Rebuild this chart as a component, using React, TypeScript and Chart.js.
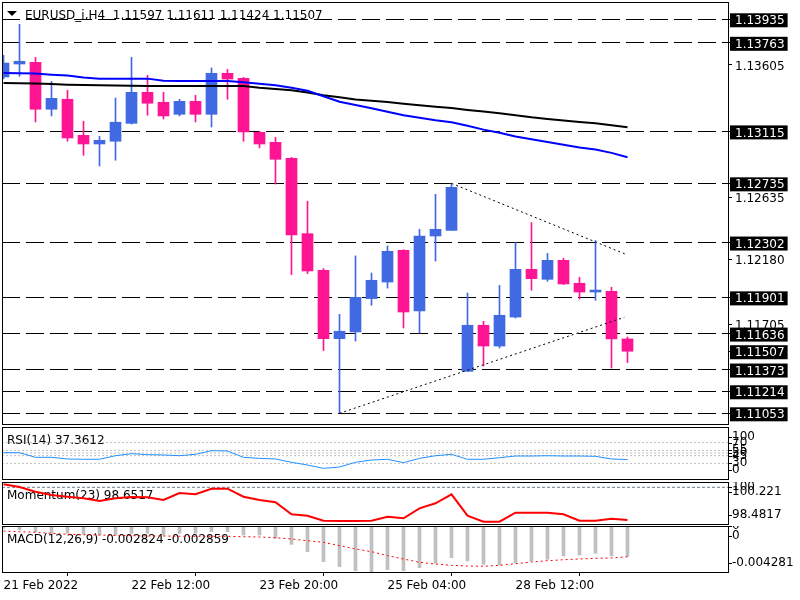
import React, { useEffect, useRef } from 'react';
import { Chart, registerables } from 'chart.js';
Chart.register(...registerables);

const FAMILY = "'DejaVu Sans', sans-serif";
const FONT = `12px ${FAMILY}`;

const symbolName = 'EURUSD_i,H4';

const openPrices = [1.13513,1.13608,1.13620,1.13277,1.13350,1.13086,1.13023,1.13043,1.13174,1.13401,
1.13328,1.13240,1.13335,1.13240,1.13540,1.13503,1.13108,1.13035,1.12918,1.12367,
1.12099,1.11599,1.11648,1.11892,1.12013,1.12245,1.11801,1.12350,1.12391,1.11360,
1.11697,1.11545,1.11757,1.12106,1.12033,1.12172,1.12004,1.11940,1.11945,1.11597];
const highPrices = [1.13672,1.13898,1.13657,1.13481,1.13416,1.13189,1.13079,1.13359,1.13657,1.13525,
1.13401,1.13350,1.13379,1.13579,1.13569,1.13510,1.13116,1.13072,1.12925,1.12604,
1.12111,1.11777,1.12204,1.12079,1.12277,1.12250,1.12399,1.12655,1.12735,1.11933,
1.11726,1.11989,1.12302,1.12448,1.12223,1.12187,1.12048,1.12316,1.11975,1.11611];
const lowPrices = [1.13500,1.13518,1.13184,1.13228,1.13043,1.12940,1.12862,1.12904,1.13169,1.13233,
1.13206,1.13228,1.13184,1.13147,1.13350,1.13043,1.12994,1.12730,1.12067,1.12075,
1.11512,1.11053,1.11582,1.11843,1.11969,1.11677,1.11640,1.12167,1.12391,1.11360,
1.11399,1.11531,1.11750,1.11953,1.12018,1.11995,1.11889,1.11880,1.11384,1.11424];
const closePrices = [1.13615,1.13628,1.13277,1.13357,1.13067,1.13023,1.13050,1.13182,1.13401,1.13321,
1.13228,1.13335,1.13240,1.13540,1.13498,1.13111,1.13023,1.12911,1.12357,1.12094,
1.11599,1.11653,1.11901,1.12026,1.12238,1.11794,1.12350,1.12399,1.12706,1.11697,
1.11545,1.11770,1.12106,1.12038,1.12172,1.11999,1.11940,1.11953,1.11597,1.11507];

const maBlue = [1.13542,1.13540,1.13538,1.13530,1.13523,1.13509,1.13501,1.13501,1.13501,1.13501,
1.13485,1.13484,1.13484,1.13484,1.13484,1.13474,1.13463,1.13452,1.13435,1.13412,
1.13372,1.13332,1.13308,1.13284,1.13258,1.13233,1.13215,1.13196,1.13182,1.13156,
1.13128,1.13105,1.13077,1.13057,1.13037,1.13017,1.12997,1.12982,1.12958,1.12926];
const maBlack = [1.13469,1.13467,1.13465,1.13461,1.13457,1.13454,1.13452,1.13450,1.13449,1.13447,
1.13447,1.13447,1.13447,1.13447,1.13447,1.13447,1.13434,1.13425,1.13416,1.13399,
1.13379,1.13364,1.13348,1.13339,1.13330,1.13318,1.13306,1.13296,1.13286,1.13272,
1.13260,1.13247,1.13233,1.13218,1.13206,1.13194,1.13184,1.13174,1.13160,1.13145];

const levelPrices = [1.13935,1.13763,1.13115,1.12735,1.12302,1.11901,1.11636,1.11373,1.11214,1.11053];
const plainPriceTicks = [1.13605,1.12635,1.12180,1.11705];
const currentPrice = closePrices[closePrices.length - 1];

const upperTrend = [{ x: 28, y: 1.12735 }, { x: 38.9, y: 1.12216 }];
const lowerTrend = [{ x: 21, y: 1.11053 }, { x: 38.8, y: 1.11755 }];

const rsiValues = [50.6,50.6,41.7,41.7,38.5,37.9,37.9,44.8,48.7,46.8,
46.2,44.8,47.4,54.5,53.8,41.7,39.7,38.5,32.1,26.9,
20.5,23.1,32.1,36.5,37.9,31.4,39.7,44.8,47.4,37.9,
37.9,41.0,44.2,44.2,44.8,44.2,44.2,43.6,38.5,37.3612];
const rsiLevels = [70,55,50,45,30];
const rsiRange = [0, 100];

const momentumValues = [100.126,100.014,99.819,99.683,99.612,99.546,99.434,99.546,99.600,99.587,
99.476,99.766,99.712,99.944,99.944,99.612,99.476,99.380,98.884,98.826,
98.618,98.606,98.606,98.618,98.784,98.718,99.132,99.339,99.712,98.826,
98.577,98.577,98.950,98.950,98.950,98.884,98.618,98.618,98.701,98.6517];
const momentumLevel = 100;
const momentumRange = [98.4817, 100.221];

const macdValues = [-0.00021,-0.00037,-0.00053,-0.00068,-0.00068,-0.00077,-0.00084,-0.00084,-0.00068,-0.00068,
-0.00084,-0.00068,-0.00068,-0.00053,-0.00053,-0.00084,-0.00084,-0.00115,-0.00171,-0.00239,
-0.00332,-0.00379,-0.00416,-0.004281,-0.00406,-0.00416,-0.00388,-0.00348,-0.00295,-0.00326,
-0.00357,-0.00363,-0.00341,-0.00326,-0.00310,-0.00279,-0.00270,-0.00254,-0.00279,-0.002824];
const signalValues = [-0.00047,-0.00053,-0.00059,-0.00068,-0.00077,-0.00081,-0.00084,-0.00087,-0.00090,-0.00093,
-0.00093,-0.00096,-0.00096,-0.00096,-0.00096,-0.00100,-0.00102,-0.00109,-0.00121,-0.00137,
-0.00152,-0.00183,-0.00214,-0.00239,-0.00276,-0.00307,-0.00338,-0.00354,-0.00366,-0.00372,
-0.00375,-0.00366,-0.00351,-0.00335,-0.00323,-0.00314,-0.00307,-0.00301,-0.00298,-0.002859];
const macdLevel = 0;
const macdRange = [-0.004281, 0];

const timeLabels = ['21 Feb 2022', '22 Feb 12:00', '23 Feb 20:00', '25 Feb 04:00', '28 Feb 12:00'];
const timeLabelIndex = [0, 8, 16, 24, 32];

// axis limits (layout)
const X_MIN = -0.09375;
const X_MAX = 45.28125;
const PRICE_MIN = 1.109747;
const PRICE_MAX = 1.140615;

const BULL = '#4169E1';
const BEAR = '#FF1493';

const idx = openPrices.map((_, i) => i);
const candleColors = idx.map(i => (closePrices[i] >= openPrices[i] ? BULL : BEAR));
const pts = (arr: number[]) => arr.map((v, i) => ({ x: i, y: v }));
const hLine = (v: number) => [{ x: X_MIN, y: v }, { x: X_MAX, y: v }];

const framePlugin = {
  id: 'frame',
  afterDraw(chart: any) {
    const { ctx, chartArea: a } = chart;
    ctx.save();
    ctx.strokeStyle = '#000';
    ctx.lineWidth = 1;
    ctx.strokeRect(a.left + 0.5, a.top + 0.5, a.right - a.left, a.bottom - a.top);
    ctx.restore();
  },
};

const titlePlugin = (text: string, withArrow: boolean) => ({
  id: 'panelTitle',
  beforeDatasetsDraw(chart: any) {
    const { ctx, chartArea: a } = chart;
    ctx.save();
    ctx.fillStyle = '#000';
    ctx.font = FONT;
    ctx.textAlign = 'left';
    ctx.textBaseline = 'alphabetic';
    if (withArrow) {
      ctx.beginPath();
      ctx.moveTo(a.left + 5, a.top + 9);
      ctx.lineTo(a.left + 15, a.top + 9);
      ctx.lineTo(a.left + 10, a.top + 14);
      ctx.closePath();
      ctx.fill();
      ctx.fillText(text, a.left + 23, a.top + 17);
    } else {
      ctx.fillText(text, a.left + 5, a.top + 17);
    }
    ctx.restore();
  },
});

const sideLabelsPlugin = (labels: { value: number; clamp: boolean }[]) => ({
  id: 'sideLabels',
  afterDraw(chart: any) {
    const { ctx, chartArea: a } = chart;
    const ys = chart.scales.y;
    ctx.save();
    ctx.beginPath();
    ctx.rect(a.right + 1, a.top, 800 - a.right, a.bottom - a.top + 1);
    ctx.clip();
    ctx.font = FONT;
    ctx.fillStyle = '#000';
    ctx.textAlign = 'left';
    ctx.textBaseline = 'middle';
    for (const l of labels) {
      let y = ys.getPixelForValue(l.value);
      if (l.clamp) y = Math.min(Math.max(y, a.top + 10), a.bottom - 9);
      ctx.fillRect(a.right, Math.round(y), 4, 1);
      ctx.fillText(String(l.value), a.right + 4, Math.round(y));
    }
    ctx.restore();
  },
});

const baseX = { type: 'linear', min: X_MIN, max: X_MAX, offset: false, display: false };
const noPlugins = { legend: { display: false }, tooltip: { enabled: false } };

export default function App() {
  const mainRef = useRef<HTMLCanvasElement>(null);
  const rsiRef = useRef<HTMLCanvasElement>(null);
  const momRef = useRef<HTMLCanvasElement>(null);
  const macdRef = useRef<HTMLCanvasElement>(null);

  useEffect(() => {
    const boxed = (v: number) => levelPrices.includes(v) || v === currentPrice;
    const isLevel = (v: number) => levelPrices.includes(v);
    const last = openPrices.length - 1;
    const mainTitle = `${symbolName}  ${openPrices[last].toFixed(5)} ${highPrices[last].toFixed(5)} ${lowPrices[last].toFixed(5)} ${closePrices[last].toFixed(5)}`;

    const main = new Chart(mainRef.current as HTMLCanvasElement, {
      type: 'bar',
      data: {
        datasets: [
          { type: 'line', data: upperTrend, borderColor: '#000', borderWidth: 1, borderDash: [2, 3], pointRadius: 0, order: 0 } as any,
          { type: 'line', data: lowerTrend, borderColor: '#000', borderWidth: 1, borderDash: [2, 3], pointRadius: 0, order: 0 } as any,
          { type: 'line', data: pts(maBlue), borderColor: '#0000FF', borderWidth: 2, pointRadius: 0, order: 1 } as any,
          { type: 'line', data: pts(maBlack), borderColor: '#000000', borderWidth: 2, pointRadius: 0, order: 2 } as any,
          {
            type: 'bar',
            data: idx.map(i => ({ x: i, y: [Math.min(openPrices[i], closePrices[i]), Math.max(openPrices[i], closePrices[i])] })),
            backgroundColor: candleColors, borderWidth: 0, barThickness: 11, grouped: false, minBarLength: 2, order: 3,
          } as any,
          {
            type: 'bar',
            data: idx.map(i => ({ x: i, y: [lowPrices[i], highPrices[i]] })),
            backgroundColor: candleColors, borderWidth: 0, barThickness: 1, grouped: false, order: 4,
          } as any,
        ],
      },
      options: {
        responsive: false, animation: false, events: [],
        layout: { padding: { left: 2, top: 2, right: 0, bottom: 176 } },
        plugins: noPlugins as any,
        scales: {
          x: baseX as any,
          y: {
            type: 'linear', position: 'right', min: PRICE_MIN, max: PRICE_MAX,
            afterBuildTicks: (s: any) => {
              s.ticks = [...plainPriceTicks, ...levelPrices, currentPrice].map(v => ({ value: v }));
            },
            afterFit: (s: any) => { s.width = 72; s.paddingTop = 0; s.paddingBottom = 0; },
            grid: {
              color: (c: any) => (c.tick && isLevel(c.tick.value) ? '#000' : 'rgba(0,0,0,0)'),
              lineWidth: 1, tickLength: 4, tickColor: '#000', drawTicks: true,
            },
            border: { display: false, dash: [18, 6] },
            ticks: {
              autoSkip: false, padding: 3, labelOffset: 2,
              font: { family: FAMILY, size: 12, lineHeight: 1 },
              color: (c: any) => (c.tick && boxed(c.tick.value) ? '#fff' : '#000'),
              showLabelBackdrop: (c: any) => !!(c.tick && boxed(c.tick.value)),
              backdropColor: '#000',
              backdropPadding: { left: 5, right: 3, top: 2, bottom: 0 },
              callback: (v: any) => Number(v).toFixed(5),
            },
          } as any,
        },
      },
      plugins: [titlePlugin(mainTitle, true), framePlugin],
    });

    const rsi = new Chart(rsiRef.current as HTMLCanvasElement, {
      type: 'line',
      data: {
        datasets: [
          { data: pts(rsiValues), borderColor: '#1E90FF', borderWidth: 1, pointRadius: 0, order: 0 },
          ...rsiLevels.map(l => ({ data: hLine(l), borderColor: '#C0C0C0', borderWidth: 1, borderDash: [2, 2], pointRadius: 0, order: 1 })),
        ] as any,
      },
      options: {
        responsive: false, animation: false, events: [],
        layout: { padding: { left: 2, top: 427, right: 72, bottom: 121 } },
        plugins: noPlugins as any,
        scales: { x: baseX as any, y: { type: 'linear', display: false, min: rsiRange[0], max: rsiRange[1] } },
      },
      plugins: [
        titlePlugin(`RSI(14) ${rsiValues[rsiValues.length - 1]}`, false),
        framePlugin,
        sideLabelsPlugin([
          { value: rsiRange[1], clamp: true },
          ...rsiLevels.map(l => ({ value: l, clamp: false })),
          { value: rsiRange[0], clamp: true },
        ]),
      ],
    });

    const mom = new Chart(momRef.current as HTMLCanvasElement, {
      type: 'line',
      data: {
        datasets: [
          { data: pts(momentumValues), borderColor: '#FF0000', borderWidth: 2, pointRadius: 0, order: 0 },
          { data: hLine(momentumLevel), borderColor: '#708090', borderWidth: 1, borderDash: [3, 2], pointRadius: 0, order: 1 },
        ] as any,
      },
      options: {
        responsive: false, animation: false, events: [],
        layout: { padding: { left: 2, top: 482, right: 72, bottom: 76 } },
        plugins: noPlugins as any,
        scales: { x: baseX as any, y: { type: 'linear', display: false, min: momentumRange[0], max: momentumRange[1] } },
      },
      plugins: [
        titlePlugin(`Momentum(23) ${momentumValues[momentumValues.length - 1]}`, false),
        framePlugin,
        sideLabelsPlugin([
          { value: momentumLevel, clamp: false },
          { value: momentumRange[1], clamp: true },
          { value: momentumRange[0], clamp: true },
        ]),
      ],
    });

    const macd = new Chart(macdRef.current as HTMLCanvasElement, {
      type: 'bar',
      data: {
        datasets: [
          { type: 'line', data: pts(signalValues), borderColor: '#FF0000', borderWidth: 1, borderDash: [2, 3], pointRadius: 0, order: 0 } as any,
          { type: 'bar', data: pts(macdValues), backgroundColor: '#C0C0C0', borderWidth: 0, barThickness: 3, grouped: false, order: 1 } as any,
        ],
      },
      options: {
        responsive: false, animation: false, events: [],
        layout: { padding: { left: 2, top: 526, right: 72, bottom: 0 } },
        plugins: noPlugins as any,
        scales: {
          x: {
            type: 'linear', min: X_MIN, max: X_MAX, offset: false, display: true, position: 'bottom',
            afterBuildTicks: (s: any) => { s.ticks = timeLabelIndex.map(v => ({ value: v })); },
            afterFit: (s: any) => { s.height = 28; s.paddingLeft = 0; s.paddingRight = 0; },
            grid: { drawOnChartArea: false, drawTicks: true, tickLength: 4, tickColor: '#000', color: '#000' },
            border: { display: false },
            ticks: {
              autoSkip: false, maxRotation: 0, minRotation: 0, align: 'start', padding: 3, color: '#000',
              font: { family: FAMILY, size: 12 },
              callback: (v: any) => timeLabels[timeLabelIndex.indexOf(Number(v))] ?? '',
            },
          } as any,
          y: { type: 'linear', display: false, min: macdRange[0], max: macdRange[1] },
        },
      },
      plugins: [
        titlePlugin(`MACD(12,26,9) ${macdValues[macdValues.length - 1]} ${signalValues[signalValues.length - 1]}`, false),
        framePlugin,
        sideLabelsPlugin([
          { value: macdLevel, clamp: false },
          { value: macdRange[1], clamp: true },
          { value: macdRange[0], clamp: true },
        ]),
      ],
    });

    return () => { main.destroy(); rsi.destroy(); mom.destroy(); macd.destroy(); };
  }, []);

  const cs: React.CSSProperties = { position: 'absolute', left: 0, top: 0 };
  return (
    <div style={{ position: 'fixed', left: 0, top: 0, width: 800, height: 600, background: '#fff', overflow: 'hidden' }}>
      <canvas ref={mainRef} width={800} height={600} style={cs} />
      <canvas ref={rsiRef} width={800} height={600} style={cs} />
      <canvas ref={momRef} width={800} height={600} style={cs} />
      <canvas ref={macdRef} width={800} height={600} style={cs} />
    </div>
  );
}
